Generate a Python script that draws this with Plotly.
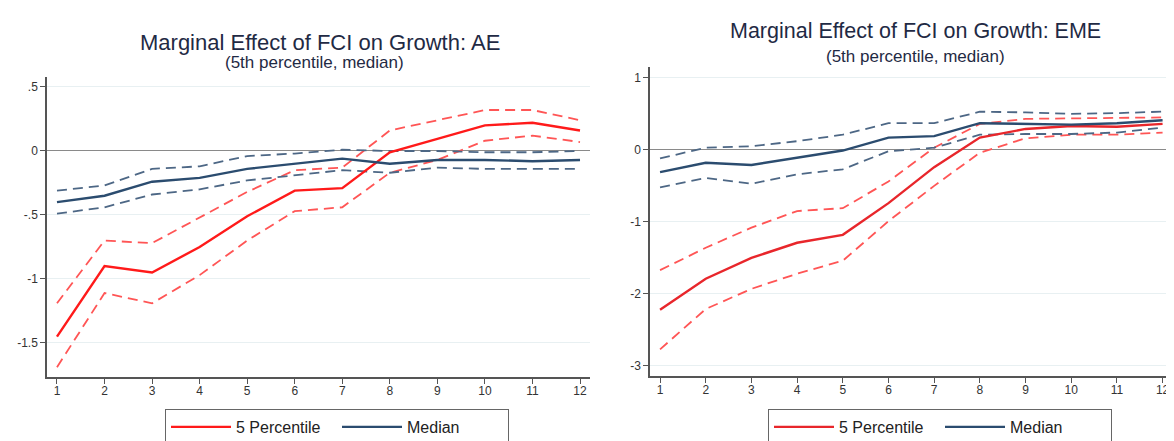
import plotly.graph_objects as go

horizons = list(range(1, 13))

# Left panel: AE
ae_p5 = [-1.45, -0.90, -0.95, -0.75, -0.51, -0.31, -0.29, -0.01, 0.095, 0.20, 0.22, 0.16]
ae_p5_hi = [-1.19, -0.70, -0.72, -0.52, -0.32, -0.15, -0.13, 0.16, 0.24, 0.32, 0.32, 0.24]
ae_p5_lo = [-1.69, -1.11, -1.19, -0.97, -0.70, -0.47, -0.44, -0.17, -0.07, 0.08, 0.12, 0.07]
ae_med = [-0.40, -0.35, -0.24, -0.21, -0.14, -0.10, -0.06, -0.10, -0.07, -0.07, -0.08, -0.07]
ae_med_hi = [-0.31, -0.27, -0.14, -0.12, -0.04, -0.02, 0.01, 0.00, 0.00, -0.01, -0.01, 0.00]
ae_med_lo = [-0.49, -0.44, -0.34, -0.30, -0.23, -0.19, -0.15, -0.17, -0.13, -0.14, -0.14, -0.14]

# Right panel: EME
eme_p5 = [-2.22, -1.79, -1.50, -1.29, -1.18, -0.74, -0.24, 0.17, 0.29, 0.33, 0.32, 0.36]
eme_p5_hi = [-1.67, -1.36, -1.08, -0.85, -0.81, -0.44, 0.03, 0.36, 0.43, 0.44, 0.44, 0.45]
eme_p5_lo = [-2.77, -2.21, -1.93, -1.72, -1.54, -0.99, -0.50, -0.04, 0.16, 0.21, 0.21, 0.24]
eme_med = [-0.31, -0.18, -0.21, -0.11, -0.01, 0.17, 0.19, 0.37, 0.36, 0.35, 0.37, 0.41]
eme_med_hi = [-0.12, 0.03, 0.05, 0.12, 0.21, 0.37, 0.37, 0.53, 0.52, 0.50, 0.51, 0.53]
eme_med_lo = [-0.52, -0.39, -0.47, -0.34, -0.27, -0.02, 0.03, 0.21, 0.22, 0.22, 0.24, 0.31]

left_yticks = [0.5, 0, -0.5, -1, -1.5]
left_yticklabels = [".5", "0", "-.5", "-1", "-1.5"]
right_yticks = [1, 0, -1, -2, -3]
right_yticklabels = ["1", "0", "-1", "-2", "-3"]

titles = ["Marginal Effect of FCI on Growth: AE", "Marginal Effect of FCI on Growth: EME"]
subtitle = "(5th percentile, median)"
names = ["5 Percentile", "Median"]

# page body has an 8px default margin -> figure is 8px smaller and coordinates shifted
OFF = 8
W, H = 1174 - OFF, 441 - OFF
FONT = "Liberation Sans, Arial, sans-serif"
RED = "#ff1a1a"
RED_R = "#e8262b"
RED_D = "#ff5555"
BLUE = "#2b4c6f"
BLUE_D = "#4d6785"
DASH = "10px,6px"

fig = go.Figure()

def add_panel(xa, ya, leg, p5, p5hi, p5lo, med, medhi, medlo, red):
    for vals in (p5hi, p5lo):
        fig.add_trace(go.Scatter(x=horizons, y=vals, mode="lines", xaxis=xa, yaxis=ya,
                                 line=dict(color=RED_D, width=1.8, dash=DASH), showlegend=False,
                                 hoverinfo="skip"))
    for vals in (medhi, medlo):
        fig.add_trace(go.Scatter(x=horizons, y=vals, mode="lines", xaxis=xa, yaxis=ya,
                                 line=dict(color=BLUE_D, width=1.8, dash=DASH), showlegend=False,
                                 hoverinfo="skip"))
    fig.add_trace(go.Scatter(x=horizons, y=p5, mode="lines", xaxis=xa, yaxis=ya, name=names[0],
                             line=dict(color=red, width=2.4), legend=leg))
    fig.add_trace(go.Scatter(x=horizons, y=med, mode="lines", xaxis=xa, yaxis=ya, name=names[1],
                             line=dict(color=BLUE, width=2.4), legend=leg))

add_panel("x", "y", "legend", ae_p5, ae_p5_hi, ae_p5_lo, ae_med, ae_med_hi, ae_med_lo, RED)
add_panel("x2", "y2", "legend2", eme_p5, eme_p5_hi, eme_p5_lo, eme_med, eme_med_hi, eme_med_lo, RED_R)

def px_x(p):
    return (p - OFF) / W

def px_y(p):
    return 1 - (p - OFF) / H

axis_common = dict(showline=True, linecolor="#555555", linewidth=1.5, ticks="outside",
                   ticklen=5, tickcolor="#555555", ticklabeloverflow="allow",
                   tickfont=dict(family=FONT, size=12, color="#333333"))

legend_common = dict(orientation="h", xanchor="left", yanchor="top",
                     bordercolor="#666666", borderwidth=1, bgcolor="white",
                     font=dict(family=FONT, size=16, color="#222222"),
                     itemwidth=60, entrywidth=96, tracegroupgap=0)

fig.update_layout(
    width=W, height=H, margin=dict(l=0, r=0, t=0, b=0, autoexpand=False),
    paper_bgcolor="white", plot_bgcolor="white",
    font=dict(family=FONT),
    xaxis=dict(domain=[px_x(47), px_x(590)], range=[0.79, 12.21], tickvals=horizons,
               showgrid=False, zeroline=False, anchor="y", ticklabelstandoff=-3, **axis_common),
    yaxis=dict(domain=[px_y(377), px_y(77)], range=[-1.766, 0.578], tickvals=left_yticks,
               ticktext=left_yticklabels, showgrid=True, gridcolor="#e8f0f2", gridwidth=1,
               zeroline=True, zerolinecolor="#8a8a8a", zerolinewidth=1.2, anchor="x", **axis_common),
    xaxis2=dict(domain=[px_x(650), 1.0], range=[0.78, 12.25], tickvals=horizons,
                showgrid=False, zeroline=False, anchor="y2", ticklabelstandoff=-3, **axis_common),
    yaxis2=dict(domain=[px_y(376), px_y(67)], range=[-3.14, 1.15], tickvals=right_yticks,
                ticktext=right_yticklabels, showgrid=True, gridcolor="#e8f0f2", gridwidth=1,
                zeroline=True, zerolinecolor="#8a8a8a", zerolinewidth=1.2, anchor="x2", **axis_common),
    legend=dict(x=px_x(165), y=px_y(409), **legend_common),
    legend2=dict(x=px_x(768), y=px_y(409), **legend_common),
    showlegend=True,
)

annots = [
    dict(text=titles[0], x=px_x(320), y=px_y(43), size=22),
    dict(text=subtitle, x=px_x(314), y=px_y(63), size=17),
    dict(text=titles[1], x=px_x(915), y=px_y(31), size=21.5),
    dict(text=subtitle, x=px_x(915), y=px_y(57), size=17),
]
for a in annots:
    fig.add_annotation(text=a["text"], x=a["x"], y=a["y"], xref="paper", yref="paper",
                       xanchor="center", yanchor="middle", showarrow=False,
                       font=dict(family=FONT, size=a["size"], color="#1f2a44"))

fig.write_html("out.html")
